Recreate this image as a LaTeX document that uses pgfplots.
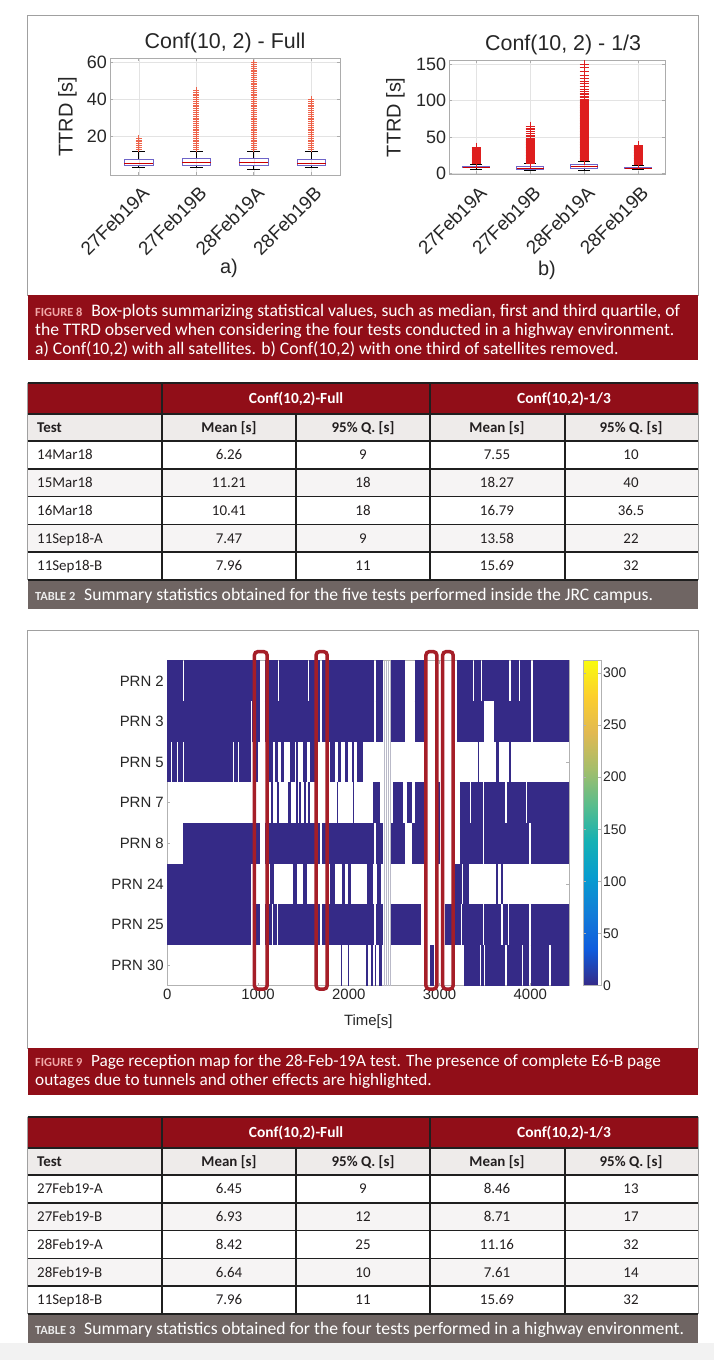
\documentclass[border=0pt]{standalone}
\usepackage{fontspec}
\setmainfont{Carlito}
\newfontfamily\arial{Liberation Sans}
\usepackage{pgfplots}
\pgfplotsset{compat=1.18}
\usepgfplotslibrary{statistics}
\definecolor{capred}{RGB}{145,14,24}
\definecolor{capgray}{RGB}{111,101,99}
\definecolor{lblpink}{RGB}{240,168,168}
\definecolor{subgray}{RGB}{238,235,234}
\definecolor{altgray}{RGB}{246,244,244}
\definecolor{txt}{RGB}{35,31,32}
\definecolor{pblue}{RGB}{53,42,135}
\definecolor{hlred}{RGB}{165,30,40}
\definecolor{framegray}{RGB}{160,160,160}
\definecolor{mgray}{RGB}{38,38,38}
\definecolor{outa}{RGB}{238,100,75}
\definecolor{outb}{RGB}{222,30,30}
\definecolor{boxc}{RGB}{110,100,200}
\definecolor{bandc}{RGB}{185,185,200}

\pgfplotsset{
  mbox/.style={scale only axis, anchor=south west,
    xmin=0.5, xmax=4.5, xtick={1,2,3,4},
    xticklabels={27Feb19A,27Feb19B,28Feb19A,28Feb19B},
    font=\arial\fontsize{18}{22}\selectfont,
    /pgf/number format/assume math mode=true,
    tick label style={text=mgray},
    xticklabel style={font=\arial\fontsize{19}{22}\selectfont, xshift=7bp, yshift=-15bp, rotate=45, anchor=east, inner sep=0pt},
    yticklabel style={inner sep=0pt, xshift=-3bp},
    grid=major, grid style={gray!22, line width=0.5bp},
    axis line style={gray!65, line width=0.8bp},
    tick style={gray!65, line width=0.6bp}, tick align=inside, major tick length=3bp,
    title style={inner sep=0pt, anchor=south, yshift=-1bp, text=mgray, font=\arial\fontsize{21.5}{24}\selectfont},
    boxplot/draw direction=y,
    boxplot/box extend=0.5,
    boxplot/whisker extend=0.22,
    boxplot/every whisker/.style={black, line width=0.6bp},
    boxplot/every median/.style={red!80!black, line width=0.8bp},
    boxplot/every box/.style={draw=boxc, line width=0.7bp},
  },
  hm/.style={draw=pblue, line width=40.7bp, line cap=butt, unbounded coords=jump, mark=none},
}

\newcommand\trow[6]{%
  \node[anchor=base west, inner sep=0, text=txt] at (37,#1+4.8) {#2};
  \node[anchor=base, inner sep=0, text=txt] at (229,#1+4.8) {#3};
  \node[anchor=base, inner sep=0, text=txt] at (363,#1+4.8) {#4};
  \node[anchor=base, inner sep=0, text=txt] at (497,#1+4.8) {#5};
  \node[anchor=base, inner sep=0, text=txt] at (631,#1+4.8) {#6};}

\newcommand\tframe[1]{%
  \fill[capred] (27.5,#1) rectangle (698,#1+31);
  \fill[subgray] (27.5,#1+31) rectangle (698,#1+58.5);
  \fill[altgray] (27.5,#1+86.2) rectangle (698,#1+113.9);
  \fill[altgray] (27.5,#1+141.6) rectangle (698,#1+169.3);
  \fill[capgray] (27.5,#1+197) rectangle (698,#1+226.5);
  \draw[framegray, line width=0.8bp] (27.5,#1) -- (27.5,#1+197) (698,#1) -- (698,#1+197);
  \foreach \yy in {0,31,58.5,86.2,113.9,141.6,169.3,197} {\draw[black!88, line width=1.6bp] (27.5,#1+\yy) -- (698,#1+\yy);}
  \draw[black!88, line width=1.4bp] (162,#1) -- (162,#1+197) (430,#1) -- (430,#1+197)
     (296,#1+31) -- (296,#1+197) (565,#1+31) -- (565,#1+197);
  \node[anchor=base, inner sep=0, text=white, font=\fontsize{15.5}{17}\selectfont\bfseries] at (296,#1+20.5) {Conf(10,2)-Full};
  \node[anchor=base, inner sep=0, text=white, font=\fontsize{15.5}{17}\selectfont\bfseries] at (564,#1+20.5) {Conf(10,2)-1/3};
  \node[anchor=base west, inner sep=0, text=txt, font=\fontsize{15}{17}\selectfont\bfseries] at (37,#1+49.5) {Test};
  \node[anchor=base, inner sep=0, text=txt, font=\fontsize{15}{17}\selectfont\bfseries] at (229,#1+49.5) {Mean [s]};
  \node[anchor=base, inner sep=0, text=txt, font=\fontsize{15}{17}\selectfont\bfseries] at (363,#1+49.5) {95\% Q. [s]};
  \node[anchor=base, inner sep=0, text=txt, font=\fontsize{15}{17}\selectfont\bfseries] at (497,#1+49.5) {Mean [s]};
  \node[anchor=base, inner sep=0, text=txt, font=\fontsize{15}{17}\selectfont\bfseries] at (631,#1+49.5) {95\% Q. [s]};}

\begin{document}
\begin{tikzpicture}
\fill[white] (0,0) rectangle (714bp,-1360bp);
\path[use as bounding box] (0,0) rectangle (714bp,-1360bp);
\fill[black!5] (0,-1343bp) rectangle (714bp,-1360bp);

\begin{scope}[x=1bp,y=-1bp]
% ---------- Figure 8 frame & caption
\draw[framegray, line width=1bp] (27.5,15) rectangle (698,295);
\fill[capred] (27.5,295) rectangle (698,360);
\begin{scope}[font=\fontsize{17.7}{19}\selectfont]
\node[anchor=base west, inner sep=0, text=white] at (35,316) {{\color{lblpink}\fontsize{12.5}{14}\selectfont\bfseries FIGURE 8}\enspace Box-plots summarizing statistical values, such as median, first and third quartile, of};
\node[anchor=base west, inner sep=0, text=white] at (35,335) {the TTRD observed when considering the four tests conducted in a highway environment.};
\node[anchor=base west, inner sep=0, text=white] at (35,354) {a) Conf(10,2) with all satellites. b) Conf(10,2) with one third of satellites removed.};
\end{scope}
\node[font=\arial\fontsize{20}{24}\selectfont, text=mgray] at (229,268) {a)};
\node[font=\arial\fontsize{20}{24}\selectfont, text=mgray] at (547,270) {b)};

% ---------- Table 2
\begin{scope}[font=\fontsize{15}{17}\selectfont]
\tframe{382.7}
\trow{455.1}{14Mar18}{6.26}{9}{7.55}{10}
\trow{482.8}{15Mar18}{11.21}{18}{18.27}{40}
\trow{510.5}{16Mar18}{10.41}{18}{16.79}{36.5}
\trow{538.2}{11Sep18-A}{7.47}{9}{13.58}{22}
\trow{565.9}{11Sep18-B}{7.96}{11}{15.69}{32}
\node[anchor=base west, inner sep=0, text=white, font=\fontsize{17.7}{19}\selectfont] at (35,600) {{\color{black!8}\fontsize{12.5}{14}\selectfont\bfseries TABLE 2}\enspace Summary statistics obtained for the five tests performed inside the JRC campus.};
\end{scope}

% ---------- Figure 9 frame & caption
\draw[framegray, line width=1bp] (27.5,630) rectangle (698,1048);
\fill[capred] (27.5,1048) rectangle (698,1095);
\begin{scope}[font=\fontsize{17.3}{19}\selectfont]
\node[anchor=base west, inner sep=0, text=white] at (35,1066) {{\color{lblpink}\fontsize{12.5}{14}\selectfont\bfseries FIGURE 9}\enspace Page reception map for the 28-Feb-19A test. The presence of complete E6-B page};
\node[anchor=base west, inner sep=0, text=white] at (35,1085) {outages due to tunnels and other effects are highlighted.};
\end{scope}

% ---------- Table 3
\begin{scope}[font=\fontsize{15}{17}\selectfont]
\tframe{1116.7}
\trow{1189.1}{27Feb19-A}{6.45}{9}{8.46}{13}
\trow{1216.8}{27Feb19-B}{6.93}{12}{8.71}{17}
\trow{1244.5}{28Feb19-A}{8.42}{25}{11.16}{32}
\trow{1272.2}{28Feb19-B}{6.64}{10}{7.61}{14}
\trow{1299.9}{11Sep18-B}{7.96}{11}{15.69}{32}
\node[anchor=base west, inner sep=0, text=white, font=\fontsize{17.7}{19}\selectfont] at (35,1334) {{\color{black!8}\fontsize{12.5}{14}\selectfont\bfseries TABLE 3}\enspace Summary statistics obtained for the four tests performed in a highway environment.};
\end{scope}
\end{scope}

% ---------- Figure 8a
\begin{axis}[mbox, at={(110bp,-175bp)}, width=230bp, height=117bp,
  ymin=-1, ymax=62.5, ytick={20,40,60},
  title={Conf(10, 2) - Full},
  every axis y label/.style={at={(rel axis cs:-0.185,0.5)}, rotate=90, anchor=center, text=mgray, font=\arial\fontsize{20}{24}\selectfont},
  ylabel={TTRD [s]}]
\addplot[boxplot prepared={draw position=1, lower whisker=3, lower quartile=4.3, median=5.5, upper quartile=7.4, upper whisker=12}, mark=+, mark size=3bp, mark options={draw=outa, line width=0.7bp, solid}]
 table[row sep=\\, y index=0]{y\\13\\14\\15\\16\\17\\18\\19\\};
\addplot[boxplot prepared={draw position=2, lower whisker=3, lower quartile=4.3, median=5.8, upper quartile=7.8, upper whisker=12}, mark=+, mark size=3bp, mark options={draw=outa, line width=0.7bp, solid}]
 table[row sep=\\, y index=0]{y\\13\\14\\15\\16\\17\\18\\19\\20\\21\\22\\23\\24\\25\\26\\27\\28\\29\\30\\31\\32\\33\\34\\35\\36\\37\\38\\39\\40\\41\\42\\43\\44\\45\\};
\addplot[boxplot prepared={draw position=3, lower whisker=2, lower quartile=4.3, median=5.8, upper quartile=8, upper whisker=12}, mark=+, mark size=3bp, mark options={draw=outa, line width=0.7bp, solid}]
 table[row sep=\\, y index=0]{y\\13\\14\\15\\16\\17\\18\\19\\20\\21\\22\\23\\24\\25\\26\\27\\28\\29\\30\\31\\32\\33\\34\\35\\36\\37\\38\\39\\40\\41\\42\\43\\44\\45\\46\\47\\48\\49\\50\\51\\52\\53\\54\\55\\56\\57\\58\\59\\60\\};
\addplot[boxplot prepared={draw position=4, lower whisker=3, lower quartile=4.3, median=5.5, upper quartile=7.4, upper whisker=12}, mark=+, mark size=3bp, mark options={draw=outa, line width=0.7bp, solid}]
 table[row sep=\\, y index=0]{y\\13\\14\\15\\16\\17\\18\\19\\20\\21\\22\\23\\24\\25\\26\\27\\28\\29\\30\\31\\32\\33\\34\\35\\36\\37\\38\\39\\40\\};
\end{axis}

% ---------- Figure 8b
\begin{axis}[mbox, at={(449.3bp,-174.3bp)}, width=215.7bp, height=114bp,
  ymin=-1.5, ymax=155.5, ytick={0,50,100,150},
  title={Conf(10, 2) - 1/3}, title style={xshift=6bp},
  every axis y label/.style={at={(rel axis cs:-0.25,0.5)}, rotate=90, anchor=center, text=mgray, font=\arial\fontsize{20}{24}\selectfont},
  ylabel={TTRD [s]}]
\addplot[boxplot prepared={draw position=1, lower whisker=6, lower quartile=7.5, median=8, upper quartile=9.5, upper whisker=12}, mark=+, mark size=4.5bp, mark options={draw=outb, line width=0.9bp, solid}]
 table[row sep=\\, y index=0]{y\\13\\14\\15\\16\\17\\18\\19\\20\\21\\22\\23\\24\\25\\26\\27\\28\\29\\30\\31\\32\\33\\34\\35\\36\\};
\addplot[boxplot prepared={draw position=2, lower whisker=4, lower quartile=6, median=7, upper quartile=9.5, upper whisker=13}, mark=+, mark size=4.5bp, mark options={draw=outb, line width=0.9bp, solid}]
 table[row sep=\\, y index=0]{y\\14\\15\\16\\17\\18\\19\\20\\21\\22\\23\\24\\25\\26\\27\\28\\29\\30\\31\\32\\33\\34\\35\\36\\37\\38\\39\\40\\41\\42\\43\\44\\45\\46\\47\\48\\50\\52\\55\\58\\60\\62\\65\\};
\addplot[boxplot prepared={draw position=3, lower whisker=3.5, lower quartile=7, median=9, upper quartile=12.5, upper whisker=17}, mark=+, mark size=4.5bp, mark options={draw=outb, line width=0.9bp, solid}]
 table[row sep=\\, y index=0]{y\\18\\19\\20\\21\\22\\23\\24\\25\\26\\27\\28\\29\\30\\31\\32\\33\\34\\35\\36\\37\\38\\39\\40\\41\\42\\43\\44\\45\\46\\47\\48\\49\\50\\51\\52\\53\\54\\55\\56\\57\\58\\59\\60\\61\\62\\63\\64\\65\\66\\67\\68\\69\\70\\71\\72\\73\\74\\75\\76\\77\\78\\79\\80\\81\\82\\83\\84\\85\\86\\87\\88\\89\\90\\91\\92\\93\\94\\95\\96\\97\\98\\99\\100\\102\\104\\106\\108\\110\\113\\116\\120\\123\\126\\130\\135\\140\\145\\150\\};
\addplot[boxplot prepared={draw position=4, lower whisker=5, lower quartile=6.5, median=7, upper quartile=8.5, upper whisker=11}, mark=+, mark size=4.5bp, mark options={draw=outb, line width=0.9bp, solid}]
 table[row sep=\\, y index=0]{y\\12\\13\\14\\15\\16\\17\\18\\19\\20\\21\\22\\23\\24\\25\\26\\27\\28\\29\\30\\31\\32\\33\\34\\35\\36\\37\\38\\};
\end{axis}

% ---------- Figure 9 heat map
\begin{axis}[at={(167.3bp,-985.5bp)}, anchor=south west, scale only axis,
  width=402bp, height=325bp,
  xmin=0, xmax=4430, ymin=0.5, ymax=8.5, y dir=reverse,
  ytick={1,2,3,4,5,6,7,8},
  yticklabels={PRN 2,PRN 3,PRN 5,PRN 7,PRN 8,PRN 24,PRN 25,PRN 30},
  xtick={0,1000,2000,3000,4000},
  scaled x ticks=false,
  font=\arial\fontsize{15}{18}\selectfont,
  /pgf/number format/assume math mode=true,
  /pgf/number format/1000 sep={},
  tick label style={text=mgray},
  every axis x label/.style={at={(rel axis cs:0.5,0)}, anchor=center, yshift=-36bp, text=mgray},
  xlabel={Time[s]},
  clip=false,
  axis line style={gray!60, line width=0.8bp},
  tick style={gray!60, line width=0.6bp}, tick align=inside, major tick length=3bp,
  colormap={parula}{rgb255=(53,42,135) rgb255=(15,92,221) rgb255=(18,125,216) rgb255=(7,156,207) rgb255=(21,177,180) rgb255=(89,189,140) rgb255=(165,190,107) rgb255=(225,185,82) rgb255=(252,206,46) rgb255=(249,251,14)},
  point meta min=0, point meta max=312,
  colorbar,
  colorbar style={at={(parent axis.north east)}, anchor=north west, xshift=5.5bp,
    width=17.5bp, scale only axis, y dir=normal,
    ytick={0,50,100,150,200,250,300}, yticklabels={0,50,100,150,200,250,300},
    xlabel={}, ylabel={}, title={},
    yticklabel style={font=\arial\fontsize{14}{16}\selectfont, text=mgray, inner sep=2bp},
    axis line style={gray!60}, tick style={gray!60}, major tick length=3bp},
]
\addplot[hm] table[row sep=\\]{x y\\0 1\\170 1\\nan nan\\185 1\\1020 1\\nan nan\\1076 1\\1215 1\\nan nan\\1230 1\\1550 1\\nan nan\\1562 1\\1685 1\\nan nan\\1710 1\\2280 1\\nan nan\\2295 1\\2380 1\\nan nan\\2470 1\\2620 1\\nan nan\\2725 1\\2835 1\\nan nan\\3195 1\\3365 1\\nan nan\\3380 1\\3460 1\\nan nan\\3472 1\\3770 1\\nan nan\\3785 1\\3875 1\\nan nan\\3890 1\\4010 1\\nan nan\\4030 1\\4430 1\\};
\addplot[hm] table[row sep=\\]{x y\\0 2\\925 2\\nan nan\\937 2\\1020 2\\nan nan\\1076 2\\1685 2\\nan nan\\1710 2\\2280 2\\nan nan\\2295 2\\2380 2\\nan nan\\2470 2\\2620 2\\nan nan\\2725 2\\2835 2\\nan nan\\3195 2\\3485 2\\nan nan\\3605 2\\4010 2\\nan nan\\4030 2\\4430 2\\};
\addplot[hm] table[row sep=\\]{x y\\0 3\\40 3\\nan nan\\55 3\\105 3\\nan nan\\120 3\\170 3\\nan nan\\185 3\\720 3\\nan nan\\735 3\\775 3\\nan nan\\790 3\\925 3\\nan nan\\945 3\\1000 3\\nan nan\\1114 3\\1161 3\\nan nan\\1187 3\\1224 3\\nan nan\\1250 3\\1290 3\\nan nan\\1352 3\\1407 3\\nan nan\\1420 3\\1437 3\\nan nan\\1499 3\\1536 3\\nan nan\\1573 3\\1627 3\\nan nan\\1793 3\\1848 3\\nan nan\\1877 3\\1914 3\\nan nan\\1958 3\\1995 3\\nan nan\\2032 3\\2061 3\\nan nan\\2087 3\\2160 3\\nan nan\\3420 3\\3435 3\\nan nan\\3625 3\\3660 3\\nan nan\\3770 3\\3785 3\\};
\addplot[hm] table[row sep=\\]{x y\\1142 4\\1168 4\\nan nan\\1205 4\\1227 4\\nan nan\\1334 4\\1360 4\\nan nan\\1418 4\\1444 4\\nan nan\\1451 4\\1473 4\\nan nan\\1510 4\\1528 4\\nan nan\\1554 4\\1573 4\\nan nan\\1870 4\\1885 4\\nan nan\\2045 4\\2058 4\\nan nan\\2270 4\\2340 4\\nan nan\\2490 4\\2600 4\\nan nan\\2637 4\\2692 4\\nan nan\\2729 4\\2835 4\\nan nan\\2950 4\\3000 4\\nan nan\\3225 4\\3335 4\\nan nan\\3350 4\\3478 4\\nan nan\\3490 4\\3725 4\\nan nan\\3740 4\\3950 4\\nan nan\\3965 4\\4430 4\\};
\addplot[hm] table[row sep=\\]{x y\\176 5\\945 5\\nan nan\\955 5\\1020 5\\nan nan\\1076 5\\1685 5\\nan nan\\1710 5\\2280 5\\nan nan\\2295 5\\2380 5\\nan nan\\2470 5\\2620 5\\nan nan\\2692 5\\2835 5\\nan nan\\2950 5\\3000 5\\nan nan\\3225 5\\3480 5\\nan nan\\3495 5\\3990 5\\nan nan\\4010 5\\4430 5\\};
\addplot[hm] table[row sep=\\]{x y\\0 6\\925 6\\nan nan\\1135 6\\1180 6\\nan nan\\1380 6\\1425 6\\nan nan\\1499 6\\1536 6\\nan nan\\1793 6\\1848 6\\nan nan\\1921 6\\1958 6\\nan nan\\1995 6\\2024 6\\nan nan\\2197 6\\2270 6\\nan nan\\2307 6\\2355 6\\nan nan\\3175 6\\3245 6\\nan nan\\3258 6\\3320 6\\nan nan\\3625 6\\3642 6\\nan nan\\3680 6\\3695 6\\};
\addplot[hm] table[row sep=\\]{x y\\0 7\\925 7\\nan nan\\940 7\\1020 7\\nan nan\\1076 7\\1150 7\\nan nan\\1165 7\\1210 7\\nan nan\\1225 7\\1685 7\\nan nan\\1710 7\\2280 7\\nan nan\\2295 7\\2380 7\\nan nan\\2470 7\\2800 7\\nan nan\\3060 7\\3235 7\\nan nan\\3250 7\\3475 7\\nan nan\\3490 7\\3680 7\\nan nan\\3695 7\\3750 7\\nan nan\\3765 7\\3990 7\\nan nan\\4005 7\\4430 7\\};
\addplot[hm] table[row sep=\\]{x y\\1915 8\\1925 8\\nan nan\\1990 8\\2000 8\\nan nan\\2195 8\\2215 8\\nan nan\\2240 8\\2265 8\\nan nan\\2290 8\\2300 8\\nan nan\\2330 8\\2370 8\\nan nan\\2895 8\\2935 8\\nan nan\\3265 8\\3450 8\\nan nan\\3462 8\\3485 8\\nan nan\\3497 8\\3725 8\\nan nan\\3740 8\\3910 8\\nan nan\\3925 8\\3990 8\\nan nan\\4005 8\\4210 8\\nan nan\\4225 8\\4430 8\\};
\addplot[draw=bandc, line width=1.3bp, unbounded coords=jump, mark=none] table[row sep=\\]{x y\\2392 0.5\\2392 8.5\\nan nan\\2415 0.5\\2415 8.5\\nan nan\\2440 0.5\\2440 8.5\\nan nan\\2460 0.5\\2460 8.5\\};
\addplot[draw=hlred, line width=3.5bp, rounded corners=3.5bp, mark=none] coordinates {(960,0.28) (1100,0.28) (1100,8.59) (960,8.59)} -- cycle;
\addplot[draw=hlred, line width=3.5bp, rounded corners=3.5bp, mark=none] coordinates {(1640,0.28) (1762,0.28) (1762,8.59) (1640,8.59)} -- cycle;
\addplot[draw=hlred, line width=3.5bp, rounded corners=3.5bp, mark=none] coordinates {(2850,0.28) (2970,0.28) (2970,8.59) (2850,8.59)} -- cycle;
\addplot[draw=hlred, line width=3.5bp, rounded corners=3.5bp, mark=none] coordinates {(3035,0.28) (3150,0.28) (3150,8.59) (3035,8.59)} -- cycle;
\end{axis}
\end{tikzpicture}
\end{document}
